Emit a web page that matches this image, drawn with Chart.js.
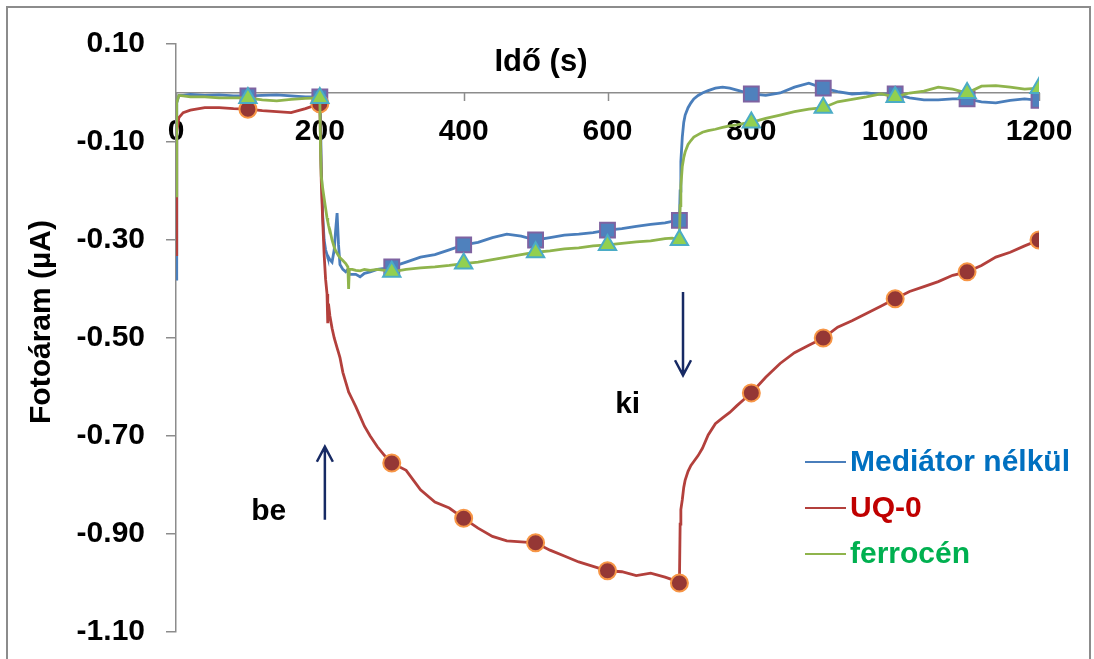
<!DOCTYPE html>
<html>
<head>
<meta charset="utf-8">
<script src="https://cdn.jsdelivr.net/npm/chart.js@4.4.0/dist/chart.umd.min.js"></script>
<style>
  body { margin: 0; background: #fff; }
  #wrap { width: 1094px; height: 659px; }
</style>
</head>
<body>
<div id="wrap"><canvas id="chart" width="1094" height="659"></canvas></div>
<script>
// measurement times (s)
const times = [
  0, 1, 4, 10, 20, 40, 60, 80, 100, 120, 140, 160, 180, 200,
  201, 202, 204, 206, 208, 210, 211, 212, 214, 217, 220, 222, 224, 226, 228, 232, 236, 239, 240, 241, 245, 250, 256, 262, 270, 280, 290, 300,
  320, 340, 360, 380, 400, 420, 440, 460, 480, 500, 520, 540, 560, 580, 600, 620, 640, 660, 680, 690, 700,
  701, 702, 704, 706, 708, 712, 716, 720, 726, 732, 740, 750, 760, 770, 780, 790, 800,
  820, 840, 860, 880, 900, 920, 940, 960, 980, 1000, 1020, 1040, 1060, 1080, 1100, 1120, 1140, 1160, 1180, 1200
];

// photocurrent (µA), one value per time above
const noMediator = [
  -0.38, -0.02, -0.005, -0.005, -0.003, -0.005, -0.004, -0.006, -0.006, -0.005, -0.004, -0.006, -0.008, -0.008,
  -0.06, -0.15, -0.25, -0.30, -0.32, -0.33, -0.335, -0.335, -0.34, -0.345, -0.32, -0.28, -0.245, -0.31, -0.35, -0.36, -0.365, -0.36, -0.365, -0.37, -0.37, -0.37, -0.375, -0.368, -0.365, -0.36, -0.358, -0.355,
  -0.345, -0.335, -0.33, -0.32, -0.31, -0.305, -0.295, -0.288, -0.292, -0.30, -0.295, -0.29, -0.288, -0.285, -0.28, -0.277, -0.272, -0.268, -0.265, -0.262, -0.26,
  -0.20, -0.14, -0.09, -0.06, -0.045, -0.03, -0.02, -0.012, -0.005, 0.0, 0.005, 0.01, 0.012, 0.01, 0.006, 0.002, -0.002,
  -0.005, 0.0, 0.012, 0.02, 0.01, 0.003, -0.002, 0.0, -0.003, -0.002, -0.01, -0.014, -0.014, -0.012, -0.012, -0.018, -0.02, -0.015, -0.012, -0.015
];
const uq0 = [
  -0.33, -0.08, -0.05, -0.04, -0.035, -0.03, -0.03, -0.032, -0.033, -0.036, -0.038, -0.04, -0.032, -0.022,
  -0.10, -0.18, -0.26, -0.33, -0.38, -0.41, -0.47, -0.43, -0.455, -0.48, -0.50, -0.51, -0.52, -0.53, -0.54, -0.57, -0.59, -0.605, -0.61, -0.613, -0.625, -0.64, -0.66, -0.68, -0.70, -0.722, -0.74, -0.755,
  -0.77, -0.81, -0.835, -0.847, -0.868, -0.888, -0.905, -0.914, -0.916, -0.918, -0.933, -0.945, -0.957, -0.966, -0.975, -0.977, -0.985, -0.98, -0.988, -0.993, -1.0,
  -0.88, -0.85, -0.83, -0.805, -0.79, -0.772, -0.76, -0.752, -0.74, -0.725, -0.698, -0.675, -0.663, -0.652, -0.638, -0.625, -0.612,
  -0.58, -0.552, -0.53, -0.515, -0.50, -0.478, -0.465, -0.45, -0.435, -0.42, -0.405, -0.395, -0.385, -0.372, -0.365, -0.352, -0.335, -0.325, -0.312, -0.30
];
const ferrocene = [
  -0.21, -0.02, -0.005, -0.006, -0.008, -0.008, -0.01, -0.01, -0.01, -0.014, -0.016, -0.013, -0.011, -0.01,
  -0.12, -0.17, -0.195, -0.215, -0.235, -0.255, -0.262, -0.27, -0.28, -0.30, -0.315, -0.322, -0.327, -0.332, -0.336, -0.342, -0.348, -0.355, -0.40, -0.36, -0.36, -0.362, -0.363, -0.36, -0.362, -0.36, -0.362, -0.365,
  -0.36, -0.357, -0.355, -0.352, -0.348, -0.345, -0.34, -0.335, -0.33, -0.325, -0.322, -0.318, -0.316, -0.312, -0.31, -0.307, -0.304, -0.302, -0.297, -0.296, -0.30,
  -0.23, -0.19, -0.15, -0.132, -0.12, -0.105, -0.097, -0.09, -0.085, -0.08, -0.077, -0.074, -0.07, -0.067, -0.065, -0.062, -0.06,
  -0.052, -0.045, -0.038, -0.033, -0.03, -0.018, -0.013, -0.008, -0.002, -0.008, 0.0, 0.004, 0.012, 0.008, 0.0, 0.014, 0.015, 0.012, 0.008, 0.01
];

const markerTimes = [100, 200, 300, 400, 500, 600, 700, 800, 900, 1000, 1100, 1200];
const xTicks = [0, 200, 400, 600, 800, 1000, 1200];
const yTicks = [0.10, -0.10, -0.30, -0.50, -0.70, -0.90, -1.10];
const seriesNames = ['Mediátor nélkül', 'UQ-0', 'ferrocén'];

const FONT = "'Liberation Sans', Arial, sans-serif";
const AXIS_GREY = '#8c8c8c';
const lineColors = ['#4a7ebb', '#b3403c', '#8fb44c'];
const textColors = ['#0070c0', '#c00000', '#00b050'];

function points(values) {
  return times.map((t, i) => ({ x: t, y: values[i] }));
}

function markerSize(r) {
  return ctx => markerTimes.includes(times[ctx.dataIndex]) ? r : 0;
}

// frame, axis titles, x tick marks, light on/off arrows and the legend
const decorations = {
  id: 'decorations',
  beforeDraw(chart) {
    const ctx = chart.ctx;
    ctx.save();
    ctx.fillStyle = '#fff';
    ctx.fillRect(0, 0, chart.width, chart.height);
    ctx.strokeStyle = AXIS_GREY;
    ctx.lineWidth = 2;
    ctx.strokeRect(7, 7, 1083, 700);
    ctx.restore();
  },
  beforeDatasetsDraw(chart) {
    // x tick marks hang below the zero line
    const ctx = chart.ctx;
    const xs = chart.scales.x, ys = chart.scales.y;
    const y0 = ys.getPixelForValue(0);
    ctx.save();
    ctx.strokeStyle = AXIS_GREY;
    ctx.lineWidth = 1.5;
    ctx.beginPath();
    xTicks.forEach(v => {
      const x = Math.round(xs.getPixelForValue(v)) + 0.5;
      ctx.moveTo(x, y0);
      ctx.lineTo(x, y0 + 8);
    });
    ctx.stroke();
    ctx.restore();
  },
  afterDraw(chart) {
    const ctx = chart.ctx;
    const xs = chart.scales.x, ys = chart.scales.y;
    ctx.save();
    ctx.fillStyle = '#000';
    ctx.font = 'bold 31px ' + FONT;
    ctx.textAlign = 'center';
    ctx.textBaseline = 'middle';
    ctx.fillText('Idő (s)', 541, 62);

    ctx.save();
    ctx.translate(42, 322);
    ctx.rotate(-Math.PI / 2);
    ctx.font = 'bold 30px ' + FONT;
    ctx.fillText('Fotoáram (µA)', 0, 0);
    ctx.restore();

    // be / ki markers
    ctx.font = 'bold 30px ' + FONT;
    ctx.fillText('be', xs.getPixelForValue(129), ys.getPixelForValue(-0.855));
    ctx.fillText('ki', xs.getPixelForValue(628), ys.getPixelForValue(-0.637));
    drawArrow(ctx, xs.getPixelForValue(207), ys.getPixelForValue(-0.871), ys.getPixelForValue(-0.722));
    drawArrow(ctx, xs.getPixelForValue(705), ys.getPixelForValue(-0.406), ys.getPixelForValue(-0.576));

    // legend
    ctx.textAlign = 'left';
    const rows = [462, 508, 554];
    seriesNames.forEach((name, i) => {
      ctx.strokeStyle = lineColors[i];
      ctx.lineWidth = 2;
      ctx.beginPath();
      ctx.moveTo(805, rows[i]);
      ctx.lineTo(846, rows[i]);
      ctx.stroke();
      ctx.fillStyle = textColors[i];
      ctx.fillText(name, 850, rows[i] + 1);
    });
    ctx.restore();
  }
};

function drawArrow(ctx, x, yTail, yTip) {
  const dir = yTip < yTail ? 1 : -1;
  ctx.strokeStyle = '#172a64';
  ctx.lineWidth = 2.5;
  ctx.beginPath();
  ctx.moveTo(x, yTail);
  ctx.lineTo(x, yTip);
  ctx.moveTo(x - 8, yTip + dir * 15);
  ctx.lineTo(x, yTip);
  ctx.lineTo(x + 8, yTip + dir * 15);
  ctx.stroke();
}

new Chart(document.getElementById('chart'), {
  type: 'line',
  data: {
    datasets: [
      {
        label: seriesNames[0], data: points(noMediator), order: 3,
        borderColor: lineColors[0], borderWidth: 2.8,
        pointStyle: 'rect', pointRadius: markerSize(10.5),
        pointBackgroundColor: '#4f81bd', pointBorderColor: '#7f63a1', pointBorderWidth: 2
      },
      {
        label: seriesNames[1], data: points(uq0), order: 2,
        borderColor: lineColors[1], borderWidth: 2.8,
        pointStyle: 'circle', pointRadius: markerSize(8.5),
        pointBackgroundColor: '#953735', pointBorderColor: '#f79646', pointBorderWidth: 2
      },
      {
        label: seriesNames[2], data: points(ferrocene), order: 1,
        borderColor: lineColors[2], borderWidth: 2.8,
        pointStyle: 'triangle', pointRadius: markerSize(10),
        pointBackgroundColor: '#92d050', pointBorderColor: '#4bacc6', pointBorderWidth: 2
      }
    ]
  },
  options: {
    responsive: false,
    animation: false,
    devicePixelRatio: 1,
    events: [],
    elements: { line: { tension: 0 } },
    layout: { padding: { left: 0, top: 44, right: 55, bottom: 27 } },
    plugins: { legend: { display: false }, tooltip: { enabled: false } },
    scales: {
      x: {
        type: 'linear',
        position: { y: 0 },
        min: 0, max: 1200,
        afterBuildTicks: s => { s.ticks = xTicks.map(v => ({ value: v })); },
        afterFit: s => { s.height = 0; },
        grid: { drawOnChartArea: false, drawTicks: false },
        border: { color: AXIS_GREY, width: 1.5 },
        ticks: {
          padding: 21, color: '#000', maxRotation: 0,
          font: { family: FONT, size: 30, weight: 'bold' },
          callback: v => String(v)
        }
      },
      y: {
        min: -1.1, max: 0.1,
        afterBuildTicks: s => { s.ticks = yTicks.map(v => ({ value: v })); },
        afterFit: s => { s.width = 176; s.paddingTop = 0; s.paddingBottom = 0; },
        grid: { drawOnChartArea: false, tickLength: 10, color: AXIS_GREY, lineWidth: 1.5 },
        border: { color: AXIS_GREY, width: 1.5 },
        ticks: {
          padding: 21, color: '#000',
          font: { family: FONT, size: 30, weight: 'bold' },
          callback: v => v.toFixed(2)
        }
      }
    }
  },
  plugins: [decorations]
});
</script>
</body>
</html>
